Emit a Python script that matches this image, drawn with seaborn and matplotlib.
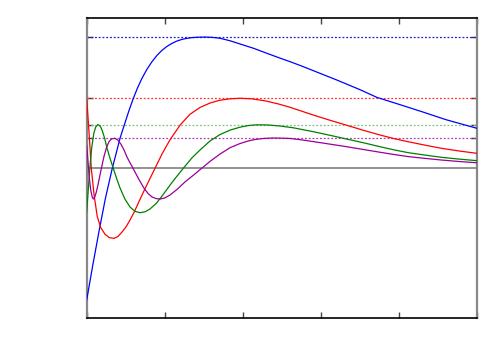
import matplotlib
matplotlib.use("Agg")
import matplotlib.pyplot as plt
import seaborn as sns
import pandas as pd

# values (x in 0..5, y in -1..1)
blue_x = [0, 0.08, 0.158, 0.24, 0.328, 0.43, 0.542, 0.597, 0.65, 0.705, 0.77, 0.833, 0.9,
          0.962, 1.03, 1.09, 1.15, 1.218, 1.28, 1.346, 1.43, 1.517, 1.61, 1.709, 1.84,
          1.965, 2.14, 2.308, 2.46, 2.606, 2.75, 2.9, 3.2, 3.5, 3.72, 4.0, 4.3, 4.6, 5.0]
blue_y = [-0.878, -0.64, -0.42, -0.2, 0, 0.205, 0.385, 0.465, 0.534, 0.596, 0.658, 0.708,
          0.752, 0.785, 0.813, 0.832, 0.847, 0.859, 0.866, 0.871, 0.874, 0.875, 0.873,
          0.867, 0.85, 0.829, 0.8, 0.767, 0.738, 0.711, 0.683, 0.652, 0.59, 0.525, 0.473,
          0.427, 0.377, 0.325, 0.267]

red_x = [0, 0.03, 0.059, 0.095, 0.136, 0.18, 0.235, 0.29, 0.35, 0.40, 0.453, 0.505, 0.555,
         0.606, 0.67, 0.735, 0.8, 0.876, 0.97, 1.068, 1.2, 1.324, 1.453, 1.581, 1.7, 1.83,
         1.965, 2.12, 2.285, 2.45, 2.606, 2.75, 2.905, 3.12, 3.333, 3.55, 3.76, 3.94, 4.123,
         4.34, 4.551, 4.78, 5.0]
red_y = [0.467, 0.24, 0, -0.18, -0.323, -0.395, -0.44, -0.462, -0.467, -0.455, -0.425,
         -0.39, -0.345, -0.295, -0.222, -0.15, -0.08, 0, 0.1, 0.19, 0.29, 0.36, 0.406,
         0.435, 0.453, 0.463, 0.467, 0.463, 0.45, 0.43, 0.407, 0.382, 0.355, 0.32, 0.287,
         0.253, 0.222, 0.198, 0.177, 0.154, 0.133, 0.115, 0.1]

green_x = [0, 0.015, 0.03, 0.045, 0.065, 0.09, 0.115, 0.145, 0.175, 0.2, 0.23, 0.26, 0.3,
           0.341, 0.385, 0.427, 0.49, 0.555, 0.62, 0.683, 0.75, 0.812, 0.89, 0.966, 1.1,
           1.238, 1.35, 1.453, 1.581, 1.709, 1.84, 1.965, 2.07, 2.179, 2.32, 2.478, 2.65,
           2.905, 3.12, 3.333, 3.55, 3.76, 3.94, 4.123, 4.34, 4.551, 4.78, 5.0]
green_y = [-0.29, -0.18, -0.07, 0.03, 0.14, 0.23, 0.275, 0.292, 0.28, 0.25, 0.2, 0.135,
           0.065, 0, -0.07, -0.131, -0.205, -0.258, -0.287, -0.296, -0.29, -0.271, -0.235,
           -0.185, -0.09, 0, 0.07, 0.122, 0.182, 0.225, 0.255, 0.274, 0.285, 0.29, 0.289,
           0.282, 0.27, 0.244, 0.22, 0.195, 0.17, 0.144, 0.123, 0.104, 0.088, 0.073, 0.061,
           0.051]

purple_x = [0, 0.012, 0.029, 0.05, 0.07, 0.085, 0.105, 0.125, 0.145, 0.18, 0.222, 0.255,
            0.286, 0.32, 0.359, 0.4, 0.44, 0.48, 0.517, 0.557, 0.597, 0.665, 0.735, 0.79,
            0.837, 0.89, 0.94, 1.0, 1.068, 1.16, 1.26, 1.37, 1.474, 1.581, 1.709, 1.84,
            1.965, 2.07, 2.158, 2.27, 2.376, 2.5, 2.606, 2.75, 2.905, 3.12, 3.333, 3.55,
            3.76, 3.94, 4.123, 4.34, 4.551, 4.78, 5.0]
purple_y = [0.155, 0.08, -0.04, -0.14, -0.19, -0.205, -0.19, -0.155, -0.11, -0.02, 0.08,
            0.14, 0.178, 0.196, 0.2, 0.188, 0.16, 0.12, 0.075, 0.035, -0.003, -0.07, -0.133,
            -0.17, -0.191, -0.202, -0.205, -0.198, -0.178, -0.14, -0.091, -0.045, 0, 0.046,
            0.095, 0.138, 0.165, 0.182, 0.192, 0.199, 0.202, 0.201, 0.199, 0.19, 0.178,
            0.161, 0.144, 0.125, 0.107, 0.092, 0.078, 0.066, 0.055, 0.045, 0.037]

peak_levels = [0.873, 0.467, 0.29, 0.202]
x_ticks = [0, 1, 2, 3, 4, 5]

curves = [
    (blue_x, blue_y, "#0000ff", "#2020c0"),
    (red_x, red_y, "#ff0000", "#ff3030"),
    (green_x, green_y, "#008000", "#80c080"),
    (purple_x, purple_y, "#990099", "#b040b0"),
]

sns.set_style("white")

fig = plt.figure(figsize=(5, 3.5), dpi=100)
ax = fig.add_axes([0.1734, 0.0906, 0.78, 0.8571])

# zero line
ax.axhline(0, color="#808080", lw=1.2, zorder=1)

for (xs, ys, col, dcol), lvl in zip(curves, peak_levels):
    ax.axhline(lvl, color=dcol, lw=0.9, ls=(0, (1.5, 1.5)), zorder=1)
    df = pd.DataFrame({"x": xs, "y": ys})
    sns.lineplot(data=df, x="x", y="y", ax=ax, color=col, lw=0.9,
                 estimator=None, sort=False, zorder=3)

ax.set_xlim(0, 5)
ax.set_ylim(-1, 1)
ax.set_xticks(x_ticks)
ax.set_yticks(peak_levels)
ax.set_xticklabels([])
ax.set_yticklabels([])
ax.set_xlabel("")
ax.set_ylabel("")
ax.tick_params(axis="x", direction="in", length=4, width=1, color="#444444",
               top=True, bottom=True)
ax.tick_params(axis="y", direction="in", length=4, width=1, color="#333333",
               left=True, right=True)

for side in ["left", "right"]:
    ax.spines[side].set_color("#888888")
    ax.spines[side].set_linewidth(1.6)
for side in ["top", "bottom"]:
    ax.spines[side].set_color("#000000")
    ax.spines[side].set_linewidth(1.2)

fig.savefig("out.png", dpi=100)
